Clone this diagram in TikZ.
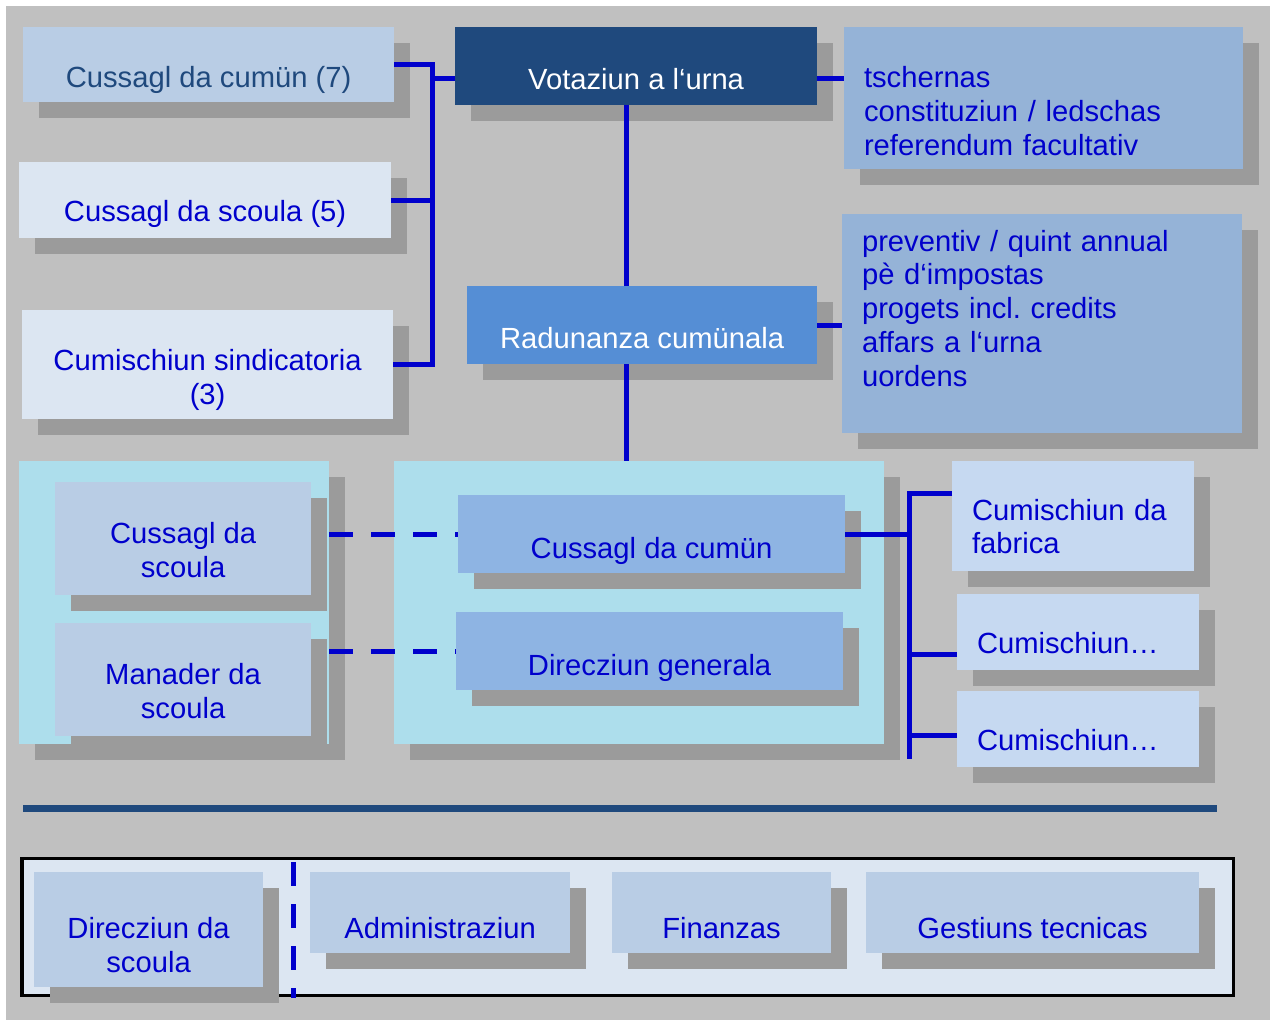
\documentclass[tikz,border=0pt]{standalone}
\usepackage{fontspec}
\setmainfont{Liberation Sans}
\usetikzlibrary{positioning, calc, shadows}

\definecolor{bggray}{HTML}{C0C0C0}
\definecolor{shadegray}{HTML}{9B9B9B}
\definecolor{dkblue}{HTML}{1F497D}
\definecolor{midblue}{HTML}{558ED5}
\definecolor{midsteel}{HTML}{95B3D7}
\definecolor{paleblue}{HTML}{B9CDE5}
\definecolor{palest}{HTML}{DCE6F2}
\definecolor{cyanish}{HTML}{ADDEEC}
\definecolor{innerblue}{HTML}{8EB4E3}
\definecolor{lightsteel}{HTML}{C6D9F1}
\definecolor{txtblue}{HTML}{0000CC}

\begin{document}
\begin{tikzpicture}[x=0.01cm,y=-0.01cm,
	box/.style={anchor=north west,inner sep=0pt,outer sep=0pt,text=txtblue,font=\fontsize{8.3}{9.64}\selectfont,
		drop shadow={shadow xshift=0.16cm,shadow yshift=-0.16cm,opacity=1,fill=shadegray}},
	lowered/.style={text height=#1,text depth=0.1cm},
	link/.style={draw=txtblue,line width=0.05cm},
	dashlink/.style={link,dash pattern=on 0.24cm off 0.18cm}]
		\useasboundingbox (0,0) rectangle (1270,1020);
		\fill[bggray] (6,6) rectangle (1270,1020);
		
		% obere reihe
		\node(cumun7) at (23,27)[box,fill=paleblue,text=dkblue,minimum width=3.71cm,minimum height=0.75cm,lowered=0.55cm]{Cussagl da cumün (7)};
		\node(scoula5) at (19,162)[box,fill=palest,minimum width=3.72cm,minimum height=0.76cm,lowered=0.52cm]{Cussagl da scoula (5)};
		\node(sindic) at (22,310)[box,fill=palest,minimum width=3.71cm,minimum height=1.09cm,lowered=0.89cm,align=center]{Cumischiun sindicatoria\\(3)};
		\node(urna) at (455,27)[box,fill=dkblue,text=white,minimum width=3.62cm,minimum height=0.78cm,lowered=0.56cm]{Votaziun a l‘urna};
		\node(tschernas) at (844,27)[box,fill=midsteel,minimum width=3.99cm,minimum height=1.42cm,text width=3.59cm,align=left,text height=0.19cm,text depth=0.4cm]{tschernas\\constituziun / ledschas\\referendum facultativ};
		\node(radun) at (467,286)[box,fill=midblue,text=white,minimum width=3.5cm,minimum height=0.78cm,lowered=0.56cm]{Radunanza cumünala};
		\node(preventiv) at (842,214)[box,fill=midsteel,minimum width=4cm,minimum height=2.19cm,text width=3.6cm,align=left,text height=0.15cm,text depth=1.6cm]{preventiv / quint annual\\pè d‘impostas\\progets incl.\ credits\\affars a l‘urna\\uordens};
		
		% scola e vischnanca
		\node(scola) at (19,461)[box,fill=cyanish,minimum width=3.1cm,minimum height=2.83cm]{};
		\node(scolacus) at (55,482)[box,fill=paleblue,minimum width=2.56cm,minimum height=1.13cm,lowered=0.88cm,align=center]{Cussagl da\\scoula};
		\node(manader) at (55,623)[box,fill=paleblue,minimum width=2.56cm,minimum height=1.13cm,lowered=0.88cm,align=center]{Manader da\\scoula};
		\node(vischnanca) at (394,461)[box,fill=cyanish,minimum width=4.9cm,minimum height=2.83cm]{};
		\node(cumun) at (458,495)[box,fill=innerblue,minimum width=3.87cm,minimum height=0.78cm,lowered=0.58cm]{Cussagl da cumün};
		\node(direcziun) at (456,612)[box,fill=innerblue,minimum width=3.87cm,minimum height=0.78cm,lowered=0.58cm]{Direcziun generala};
		\node(fabrica) at (952,461)[box,fill=lightsteel,minimum width=2.42cm,minimum height=1.1cm,text width=2.02cm,align=left,lowered=0.18cm]{Cumischiun da\\fabrica};
		\node(cum1) at (957,594)[box,fill=lightsteel,minimum width=2.42cm,minimum height=0.76cm,text width=2.02cm,align=left,lowered=0.52cm]{Cumischiun…};
		\node(cum2) at (957,691)[box,fill=lightsteel,minimum width=2.42cm,minimum height=0.76cm,text width=2.02cm,align=left,lowered=0.52cm]{Cumischiun…};
		
		% administraziun
		\draw[dkblue,line width=0.07cm] (23,808) -- (1217,808);
		\node(admin frame) at (22,858)[anchor=north west,inner sep=0pt,outer sep=0pt,fill=palest,draw=black,line width=0.03cm,minimum width=12.11cm,minimum height=1.37cm]{};
		\node(dirscola) at (34,872)[box,fill=paleblue,minimum width=2.29cm,minimum height=1.15cm,lowered=0.95cm,align=center]{Direcziun da\\scoula};
		\node(admin) at (310,872)[box,fill=paleblue,minimum width=2.6cm,minimum height=0.81cm,lowered=0.61cm]{Administraziun};
		\node(finanzas) at (612,872)[box,fill=paleblue,minimum width=2.19cm,minimum height=0.81cm,lowered=0.61cm]{Finanzas};
		\node(gestiuns) at (866,872)[box,fill=paleblue,minimum width=3.33cm,minimum height=0.81cm,lowered=0.61cm]{Gestiuns tecnicas};
		\draw[dashlink] (293,862) -- (293,998);
		
		\coordinate (lbus) at (432,62);
		\coordinate (urnain) at ([yshift=-0.12cm]urna.west);
		\coordinate (urnaout) at ([yshift=-0.12cm]urna.east);
		\coordinate (axis) at ([xshift=-0.1cm]urna.south);
		\coordinate (rbus) at (909,759);
		\coordinate (fabin) at ([yshift=-0.32cm]fabrica.north west);
		\coordinate (cum1in) at ([yshift=-0.22cm]cum1.west);
		\coordinate (cum2in) at ([yshift=-0.06cm]cum2.west);
		
		\draw[link] (cumun7.east) -| (lbus |- sindic.east) -- (sindic.east);
		\draw[link] (scoula5.east) -- (lbus |- scoula5.east);
		\draw[link] (lbus |- urnain) -- (urnain);
		\draw[link] (urnaout) -- (urnaout -| tschernas.west);
		\draw[link] (axis) -- (axis |- radun.north);
		\draw[link] (axis |- radun.south) -- (axis |- vischnanca.north);
		\draw[link] (radun.east) -- (radun.east -| preventiv.west);
		\draw[dashlink] (scola.east |- cumun.west) -- (cumun.west);
		\draw[dashlink] (scola.east |- direcziun.west) -- (direcziun.west);
		\draw[link] (fabin) -| (rbus);
		\draw[link] (cumun.east) -- (cumun.east -| rbus);
		\draw[link] (cum1in -| rbus) -- (cum1in);
		\draw[link] (cum2in -| rbus) -- (cum2in);
		
	\end{tikzpicture}
\end{document}
